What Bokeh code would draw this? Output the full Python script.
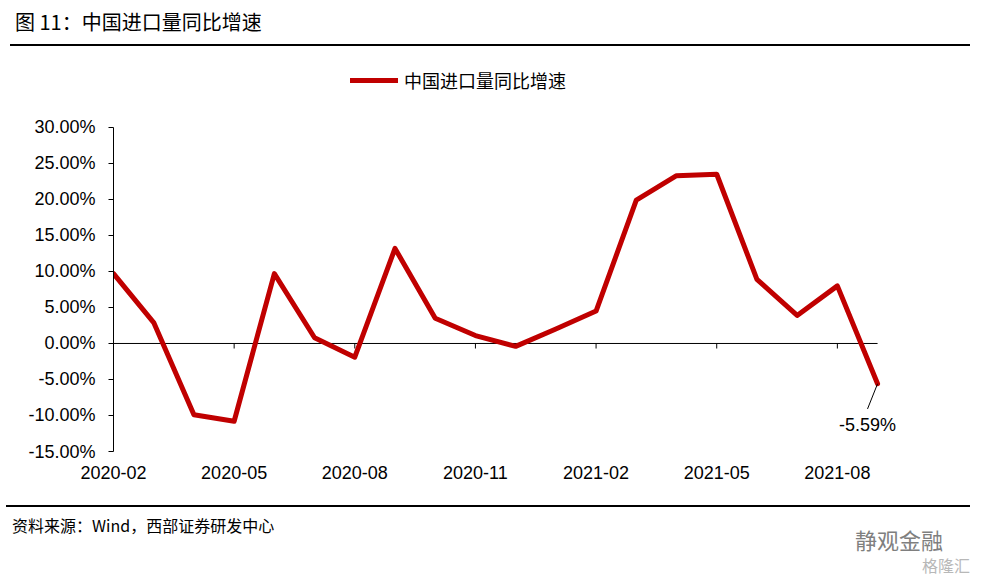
from bokeh.plotting import figure
from bokeh.models import (Range1d, FixedTicker, PrintfTickFormatter, Label,
                          Legend, LegendItem, Div)
from bokeh.layouts import column
from bokeh.embed import file_html
from bokeh.resources import INLINE

# ---------------- data ----------------
months = ["2020-02", "2020-03", "2020-04", "2020-05", "2020-06", "2020-07",
          "2020-08", "2020-09", "2020-10", "2020-11", "2020-12", "2021-01",
          "2021-02", "2021-03", "2021-04", "2021-05", "2021-06", "2021-07",
          "2021-08", "2021-09"]
values = [9.7, 2.9, -9.9, -10.8, 9.7, 0.8, -1.9, 13.2, 3.5, 1.1, -0.4, 2.0,
          4.5, 19.9, 23.3, 23.5, 8.9, 3.9, 8.0, -5.59]
y_ticks = [-15, -10, -5, 0, 5, 10, 15, 20, 25, 30]
x_tick_idx = [0, 3, 6, 9, 12, 15, 18]

title_text = "图 11：中国进口量同比增速"
series_name = "中国进口量同比增速"
source_text = "资料来源：Wind，西部证券研发中心"
wm1 = "静观金融"
wm2 = "格隆汇"

CJK = "'Noto Sans CJK SC'"
LAT = "Liberation Sans"
RED = "#C00000"
W = 975

# ---------------- top (title + rule) ----------------
top_html = (
    '<div style="position:relative;width:%dpx;height:55px;">'
    '<div style="position:absolute;left:15px;top:11px;font-family:%s;'
    'font-size:20px;line-height:22px;color:#000;white-space:nowrap;">%s</div>'
    '<div style="position:absolute;left:10px;top:44px;width:960px;height:2px;'
    'background:#000;"></div></div>' % (W, CJK, title_text)
)
top = Div(text=top_html, width=W, height=55, margin=(0, 0, 0, 0))

# ---------------- main chart ----------------
xs = list(range(len(months)))
x_pad = 0.57      # room on the right for the end label
y_head = 8.6      # room above the axis for the legend
p = figure(width=W, height=445,
           x_range=Range1d(0, len(months) - 1 + x_pad),
           y_range=Range1d(min(y_ticks), max(y_ticks) + y_head),
           toolbar_location=None, output_backend="svg",
           min_border_left=113, min_border_right=75,
           min_border_top=10, min_border_bottom=49,
           outline_line_color=None)
p.grid.visible = False

p.yaxis.bounds = (min(y_ticks), max(y_ticks))
p.yaxis.ticker = FixedTicker(ticks=y_ticks)
p.yaxis.formatter = PrintfTickFormatter(format="%.2f%%")
p.yaxis.major_tick_out = 5
p.yaxis.major_tick_in = 0
p.yaxis.minor_tick_line_color = None
p.yaxis.axis_line_color = "black"
p.yaxis.major_tick_line_color = "black"
p.yaxis.major_label_text_font = LAT
p.yaxis.major_label_text_font_size = "18px"
p.yaxis.major_label_text_color = "black"
p.yaxis.major_label_standoff = 13

p.xaxis.ticker = FixedTicker(ticks=x_tick_idx)
p.xaxis.major_label_overrides = {i: months[i] for i in x_tick_idx}
p.xaxis.axis_line_color = None
p.xaxis.major_tick_line_color = None
p.xaxis.minor_tick_line_color = None
p.xaxis.major_label_text_font = LAT
p.xaxis.major_label_text_font_size = "18px"
p.xaxis.major_label_text_color = "black"
p.xaxis.major_label_standoff = 8

# category axis at zero
p.segment(x0=[xs[0]], y0=[0], x1=[xs[-1]], y1=[0], line_color="black", line_width=1)
tick_x = x_tick_idx[1:]
p.segment(x0=tick_x, y0=[0] * len(tick_x), x1=tick_x, y1=[-0.7] * len(tick_x),
          line_color="black", line_width=1)

r = p.line(xs, values, line_color=RED, line_width=5, line_join="round",
           line_cap="round")

# last value annotation
last_x, last_v = xs[-1], values[-1]
p.segment(x0=[last_x], y0=[last_v], x1=[last_x - 0.25], y1=[last_v - 3.5],
          line_color="black", line_width=1)
p.add_layout(Label(x=last_x, y=last_v, text=f"{last_v:.2f}%", x_offset=-10,
                   y_offset=-41, text_align="center", text_baseline="middle",
                   text_font=LAT, text_font_size="18px", text_color="black"))

legend = Legend(items=[LegendItem(label=series_name, renderers=[r])],
                location=(237, 358), orientation="horizontal",
                glyph_width=48, glyph_height=20, label_standoff=6,
                padding=0, margin=0, spacing=0,
                border_line_color=None, background_fill_alpha=0,
                label_text_font="Noto Sans CJK SC", label_text_font_size="18px",
                label_text_color="black")
p.add_layout(legend)

# ---------------- bottom (rule + source + watermark) ----------------
bot_html = (
    '<div style="position:relative;width:%dpx;height:75px;">'
    '<div style="position:absolute;left:6px;top:5px;width:964px;height:2px;'
    'background:#000;"></div>'
    '<div style="position:absolute;left:12px;top:16px;font-family:%s;'
    'font-size:16px;line-height:18px;color:#000;white-space:nowrap;">%s</div>'
    '<div style="position:absolute;left:855px;top:27px;font-family:%s;'
    'font-size:22px;line-height:24px;color:#7f7f7f;white-space:nowrap;">%s</div>'
    '<div style="position:absolute;left:922px;top:56px;font-family:%s;'
    'font-size:16px;line-height:18px;color:#b8b8b8;white-space:nowrap;">%s</div>'
    '</div>' % (W, CJK, source_text, CJK, wm1, CJK, wm2)
)
bot = Div(text=bot_html, width=W, height=75, margin=(0, 0, 0, 0))

layout = column(top, p, bot, spacing=0)
open("out.html", "w").write(file_html(layout, INLINE))
